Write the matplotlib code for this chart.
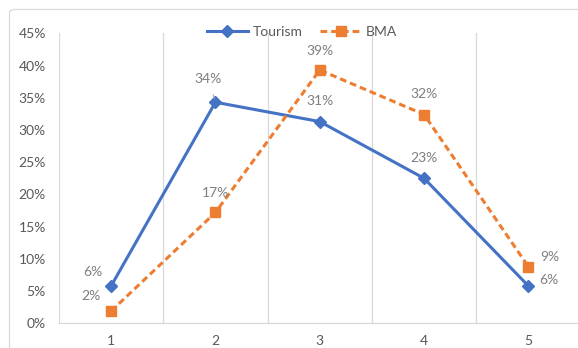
import matplotlib
matplotlib.use("Agg")
import matplotlib.pyplot as plt
from matplotlib.patches import FancyBboxPatch

categories = ["1", "2", "3", "4", "5"]
tourism = [0.058, 0.343, 0.313, 0.225, 0.058]
bma = [0.019, 0.172, 0.393, 0.324, 0.088]
tourism_labels = ["6%", "34%", "31%", "23%", "6%"]
bma_labels = ["2%", "17%", "39%", "32%", "9%"]
yticks = [0, 0.05, 0.10, 0.15, 0.20, 0.25, 0.30, 0.35, 0.40, 0.45]
ytick_labels = ["0%", "5%", "10%", "15%", "20%", "25%", "30%", "35%", "40%", "45%"]

plt.rcParams['font.family'] = ['Lato', 'DejaVu Sans']
FS = 10

W, H = 578, 348
fig = plt.figure(figsize=(W / 100, H / 100), dpi=100)
fig.patch.set_facecolor('white')

# chart border
border = FancyBboxPatch((9.5 / W, -20 / H), (W + 20) / W, (H - 9.5 + 20) / H,
                        boxstyle="round,pad=0,rounding_size=0.01",
                        transform=fig.transFigure, fill=False,
                        edgecolor='#d9d9d9', linewidth=0.9)
fig.patches.append(border)

ax = fig.add_axes([59 / W, 1 - 323.3 / H, (580.5 - 59) / W, (323.3 - 33.3) / H])
ax.set_facecolor('none')
x = list(range(1, len(categories) + 1))

ax.set_xlim(0.5, len(categories) + 0.5)
ax.set_ylim(0, 0.45)

for gx in [i + 0.5 for i in range(0, len(categories) + 1)]:
    ax.axvline(gx, color='#d9d9d9', linewidth=0.9, zorder=0)

for s in ['top', 'right', 'left']:
    ax.spines[s].set_visible(False)
ax.spines['bottom'].set_color('#d9d9d9')
ax.spines['bottom'].set_linewidth(0.9)

ax.set_xticks(x)
ax.set_xticklabels(categories)
ax.set_yticks(yticks)
ax.set_yticklabels(ytick_labels)
ax.tick_params(axis='both', length=0, labelsize=FS, labelcolor='#595959')
ax.tick_params(axis='y', pad=9.5)
ax.tick_params(axis='x', pad=8.5)

ax.plot(x, tourism, color='#4472C4', linewidth=2.2, marker='D', markersize=6,
        label='Tourism', zorder=3)
ax.plot(x, bma, color='#ED7D31', linewidth=2.2, linestyle=(0, (2.2, 1.3)),
        marker='s', markersize=7.5, label='BMA', zorder=3)

lab_color = '#7f7f7f'
t_offsets = [(-18, 14), (-7, 23), (0, 21), (0, 20), (21, 6)]
b_offsets = [(-20, 15), (0, 19), (0, 19), (0, 20), (21, 10)]
for i in range(len(categories)):
    dx, dy = t_offsets[i]
    if i == 1:
        ax.annotate(tourism_labels[i], (x[i], tourism[i]), xytext=(dx, dy),
                    textcoords='offset pixels', ha='center', va='center',
                    fontsize=FS, color=lab_color,
                    arrowprops=dict(arrowstyle='-', color='#a6a6a6', lw=0.8,
                                    shrinkA=5, shrinkB=3))
    else:
        ax.annotate(tourism_labels[i], (x[i], tourism[i]), xytext=(dx, dy),
                    textcoords='offset pixels', ha='center', va='center',
                    fontsize=FS, color=lab_color)
    dx, dy = b_offsets[i]
    ax.annotate(bma_labels[i], (x[i], bma[i]), xytext=(dx, dy),
                textcoords='offset pixels', ha='center', va='center',
                fontsize=FS, color=lab_color)

fig.legend(loc='center', bbox_to_anchor=(302 / W, 1 - 32 / H), ncol=2,
           frameon=False, fontsize=FS, handlelength=3.0, handletextpad=0.3,
           columnspacing=1.3, labelcolor='#595959')

fig.savefig('out.png', dpi=100)
